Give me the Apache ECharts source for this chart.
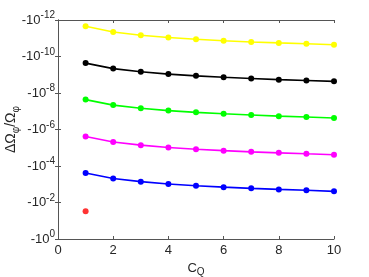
<!DOCTYPE html>
<html><head><meta charset="utf-8">
<script src="https://cdn.jsdelivr.net/npm/echarts@6/dist/echarts.min.js"></script>
<style>html,body{margin:0;padding:0;background:#fff}#c{width:369px;height:277px}</style>
</head><body><div id="c"></div>
<script>
const cq = [1,2,3,4,5,6,7,8,9,10];
const yellowVals = [2.2e-12,4.5e-12,6.8e-12,9.1e-12,1.13e-11,1.36e-11,1.6e-11,1.8e-11,2.0e-11,2.25e-11];
const blackVals = [2.3e-10,4.6e-10,6.9e-10,9.2e-10,1.15e-9,1.38e-9,1.6e-9,1.85e-9,2.05e-9,2.3e-9];
const greenVals = [2.3e-8,4.6e-8,6.9e-8,9.2e-8,1.15e-7,1.38e-7,1.6e-7,1.85e-7,2.05e-7,2.35e-7];
const magentaVals = [2.4e-6,4.8e-6,7.2e-6,9.6e-6,1.2e-5,1.44e-5,1.68e-5,1.9e-5,2.15e-5,2.4e-5];
const blueVals = [2.4e-4,4.8e-4,7.2e-4,9.6e-4,1.2e-3,1.44e-3,1.68e-3,1.92e-3,2.15e-3,2.45e-3];
const redX = [1];
const redVals = [0.03];
const xTicks = [0,2,4,6,8,10];

const font = 'Liberation Sans, Arial, sans-serif';
const axisCol = '#555555';
const txtCol = '#262626';
function pairs(xs, ys){ return xs.map((x,i)=>[x, ys[i]]); }
function line(name, color, ys){
  return {name, type:'line', data: pairs(cq, ys), symbol:'circle', symbolSize:6,
    lineStyle:{color, width:1.6}, itemStyle:{color}, silent:true, animation:false};
}
const yBase = {type:'log', logBase:10, min:1e-12, max:1, interval:2, inverse:true,
  axisLine:{show:true, lineStyle:{color:axisCol, width:1}},
  axisTick:{show:true, inside:true, length:3, lineStyle:{color:axisCol}},
  minorTick:{show:false}, splitLine:{show:false}};
const xBase = {type:'value', min:0, max:10, interval:2,
  axisLine:{show:true, onZero:false, lineStyle:{color:axisCol, width:1}},
  axisTick:{show:true, inside:true, length:3, lineStyle:{color:axisCol}},
  splitLine:{show:false}};
const chart = echarts.init(document.getElementById('c'), null, {renderer:'canvas'});
chart.setOption({
  animation:false,
  grid:{left:58, right:35, top:20, bottom:38, containLabel:false, outerBoundsMode:'none'},
  xAxis:[
    Object.assign({}, xBase, {position:'bottom', name:'C{sub|Q}', nameLocation:'middle', nameGap:21, nameMoveOverlap:false,
      nameTextStyle:{fontFamily:font, fontSize:13, color:txtCol, rich:{sub:{fontSize:10, fontFamily:font, color:txtCol, padding:[7,0,0,0]}}},
      axisLabel:{fontFamily:font, fontSize:13, color:txtCol, margin:5, formatter:v=>xTicks.includes(v)?String(v):''}}),
    Object.assign({}, xBase, {position:'top', axisLabel:{show:false}})
  ],
  yAxis:[
    Object.assign({}, yBase, {position:'left', name:'ΔΩ{sub|φ}/Ω{sub|φ}', nameLocation:'middle', nameGap:37, nameRotate:90, nameMoveOverlap:false,
      nameTextStyle:{fontFamily:font, fontSize:14, color:txtCol, rich:{sub:{fontSize:10, fontFamily:font, color:txtCol, padding:[9,0,0,0]}}},
      axisLabel:{fontFamily:font, fontSize:13, color:txtCol, margin:3,
        formatter:v=>'-10{sup|'+Math.round(Math.log10(v))+'}',
        rich:{sup:{fontSize:10, fontFamily:font, color:txtCol, padding:[0,0,9,0]}}}}),
    Object.assign({}, yBase, {position:'right', axisLabel:{show:false}})
  ],
  series:[
    line('yellow','#ffff00', yellowVals),
    line('black','#000000', blackVals),
    line('green','#00ff00', greenVals),
    line('magenta','#ff00ff', magentaVals),
    line('blue','#0000ff', blueVals),
    {name:'red', type:'scatter', data: pairs(redX, redVals), symbol:'circle', symbolSize:6, itemStyle:{color:'#ff0000'}, silent:true}
  ]
});
</script></body></html>
